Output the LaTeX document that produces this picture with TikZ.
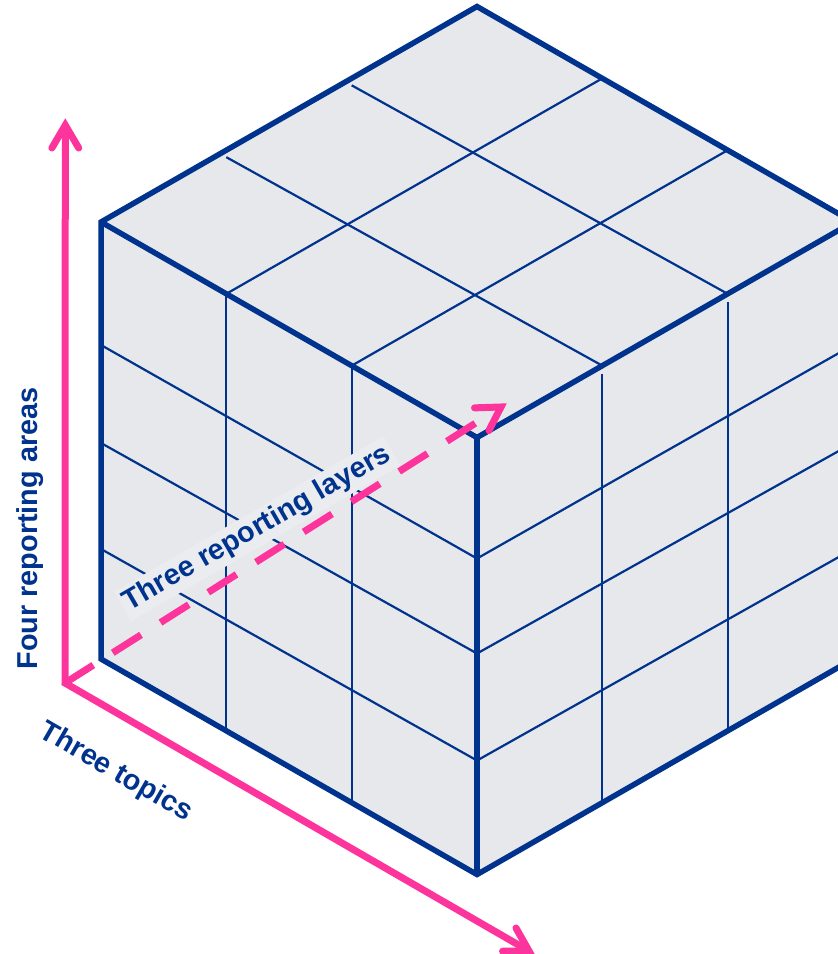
\documentclass[tikz,border=0pt]{standalone}
\usepackage{fontspec}
\setmainfont{Liberation Sans}
\usetikzlibrary{calc}
\definecolor{kblue}{RGB}{0,51,141}
\definecolor{kpink}{RGB}{253,52,156}
\definecolor{face}{RGB}{231,232,235}
\definecolor{labelbg}{RGB}{234,236,239}
\begin{document}
\begin{tikzpicture}[x=1pt,y=-1pt,
  edge/.style={draw=kblue, line width=5.5pt, line join=miter, line cap=butt},
  grid/.style={draw=kblue, line width=2.2pt},
  axis/.style={draw=kpink, line width=7pt, line join=miter},
  chev/.style={draw=kpink, line width=7pt, line cap=round, line join=miter, miter limit=10},
  dashaxis/.style={draw=kpink, line width=7pt, line cap=butt, dash pattern=on 33.5pt off 23pt},
  lbl/.style={text=kblue, font=\bfseries\fontsize{28.8}{34}\selectfont, inner sep=0pt, anchor=base},
]
\useasboundingbox (0,0) rectangle (838,954);
% cube corners
\coordinate (T) at (477,6.5);
\coordinate (L) at (101,222);
\coordinate (F) at (477,437.5);
\coordinate (R) at (853,222);
\coordinate (Lb) at (101,659);
\coordinate (Fb) at (477,874.5);
\coordinate (Rb) at (853,659);
% faces
\fill[face] (T) -- (L) -- (Lb) -- (Fb) -- (Rb) -- (R) -- cycle;
% top face grid
\foreach \k in {0.3333,0.6667}{
  \draw[grid] ($(L)!\k!(F)$) -- ($(T)!\k!(R)$);
  \draw[grid] ($(L)!\k!(T)+(0,7)$) -- ($(F)!\k!(R)$);
}
% left and right face verticals
\foreach \k in {0.3333,0.6667}{
  \draw[grid] ($(L)!\k!(F)$) -- ($(Lb)!\k!(Fb)$);
  \draw[grid] ($(F)!\k!(R)+(0,8)$) -- ($(Fb)!\k!(Rb)$);
}
% rows
\foreach \hl/\hf in {123/121,221/216,327/323}{
  \draw[grid] ($(L)+(0,\hl)$) -- ($(F)+(0,\hf)$);
  \draw[grid] ($(F)+(0,\hf)$) -- ($(R)+(0,\hl)$);
}
% label on the left face
\node[lbl, fill=labelbg, inner sep=3.5pt, rotate=30] (layers) at (261,535) {Three reporting layers};
% cube edges
\draw[edge] (T) -- (R) -- (Rb) -- (Fb) -- (Lb) -- (L) -- cycle;
\draw[edge] (L) -- (F) -- (R);
\draw[edge] (F) -- (Fb);
% pink axes
\coordinate (O) at (65,683);
\coordinate (Vup) at (65.3,125.2);
\coordinate (Vlow) at (529,951);
\coordinate (Vd) at (501,407);
\coordinate (Dend) at ($(O)!486pt!(Vd)$);
\draw[axis] (Vup) -- (O) -- (Vlow);
\draw[chev] ($(Vup)!26.5pt!30.5:(O)$) -- (Vup) -- ($(Vup)!26.5pt!-30.5:(O)$);
\draw[chev] ($(Vlow)!26.5pt!30.5:(O)$) -- (Vlow) -- ($(Vlow)!26.5pt!-30.5:(O)$);
\draw[dashaxis] (O) -- (Dend);
\draw[chev] ($(Vd)!26.5pt!30.5:(O)$) -- (Vd) -- ($(Vd)!26.5pt!-30.5:(O)$);
% axis labels
\node[lbl, rotate=90] (areas) at (37,528.5) {Four reporting areas};
\node[lbl, rotate=-30] (topics) at (112,779) {Three topics};
\end{tikzpicture}
\end{document}
